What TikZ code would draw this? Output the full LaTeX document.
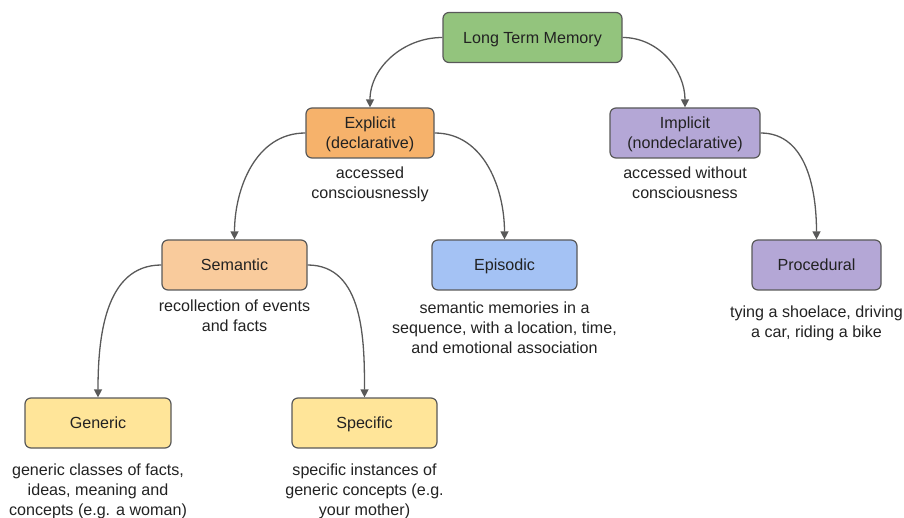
\documentclass[tikz,border=0pt]{standalone}
\usepackage{fontspec}
\setmainfont{Liberation Sans}
\usetikzlibrary{positioning}
\usetikzlibrary{arrows.meta}
\definecolor{ltmgreen}{HTML}{93C47D}
\definecolor{explorange}{HTML}{F6B26B}
\definecolor{implpurple}{HTML}{B4A7D6}
\definecolor{semorange}{HTML}{F9CB9C}
\definecolor{episblue}{HTML}{A4C2F4}
\definecolor{genyellow}{HTML}{FFE599}
\definecolor{edgegray}{HTML}{595959}
\definecolor{textdark}{HTML}{222222}
\tikzset{
  box/.style={draw=edgegray, line width=1.2pt, rounded corners=6pt,
    minimum height=50pt, align=center, text=textdark, inner sep=2pt,
    text depth=0pt},
  note/.style={align=center, inner sep=0pt, text=textdark},
  link/.style={draw=edgegray, line width=1.3pt,
    -{Triangle[length=8pt,width=8pt]}},
}

\begin{document}
\begin{tikzpicture}[x=1pt,y=-1pt, font=\fontsize{16.1}{20.2}\selectfont]
  \useasboundingbox (0,0) rectangle (904,518);
  % boxes
  \node[box, fill=ltmgreen, minimum width=179pt] (ltm) at (532.5,37.5) {Long Term Memory};
  \node[box, fill=explorange, minimum width=128pt] (explicit) at (370,133) {Explicit\\(declarative)};
  \node[box, fill=implpurple, minimum width=150pt] (implicit) at (685,133) {Implicit\\(nondeclarative)};
  \node[box, fill=semorange, minimum width=145pt] (semantic) at (234.5,265) {Semantic};
  \node[box, fill=episblue, minimum width=145pt] (episodic) at (504.5,265) {Episodic};
  \node[box, fill=implpurple, minimum width=129pt] (procedural) at (816.5,265) {Procedural};
  \node[box, fill=genyellow, minimum width=146pt] (generic) at (98,423) {Generic};
  \node[box, fill=genyellow, minimum width=145pt] (specific) at (364.5,423) {Specific};
  % descriptions
  \node[note, below=8pt of explicit] (explicitnote) {accessed\\consciousnessly};
  \node[note, below=8pt of implicit] (implicitnote) {accessed without\\consciousness};
  \node[note, below=9pt of semantic] (semanticnote) {recollection of events\\and facts};
  \node[note, below=11pt of episodic] (episodicnote) {semantic memories in a\\sequence, with a location, time,\\and emotional association};
  \node[note, below=15pt of procedural] (proceduralnote) {tying a shoelace, driving\\a car, riding a bike};
  \node[note, below=15pt of generic] (genericnote) {generic classes of facts,\\ideas, meaning and\\concepts (e.g. a woman)};
  \node[note, below=15pt of specific] (specificnote) {specific instances of\\generic concepts (e.g.\\your mother)};
  % connectors
  \draw[link] (ltm.west) to[out=180,in=90] (explicit.north);
  \draw[link] (ltm.east) to[out=0,in=90] (implicit.north);
  \draw[link] (explicit.west) to[out=180,in=90] (semantic.north);
  \draw[link] (explicit.east) to[out=0,in=90] (episodic.north);
  \draw[link] (implicit.east) to[out=0,in=90] (procedural.north);
  \draw[link] (semantic.west) to[out=180,in=90] (generic.north);
  \draw[link] (semantic.east) to[out=0,in=90] (specific.north);
\end{tikzpicture}
\end{document}
